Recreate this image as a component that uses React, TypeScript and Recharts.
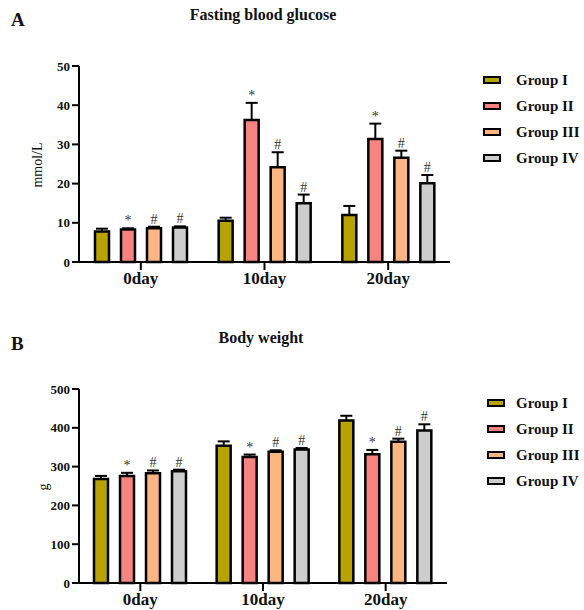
import React from 'react';
import { BarChart, Bar, XAxis, YAxis, LabelList } from 'recharts';

const days = ['0day', '10day', '20day'];
const groupNames = ['Group I', 'Group II', 'Group III', 'Group IV'];
const groupFills = ['#b8a200', '#f88482', '#fdb682', '#cdcdcd'];
const groupMarks = ['', '*', '#', '#'];

// mean per group, one value per day
const glucoseMean = [
    [7.8, 10.5, 12.0],
    [8.3, 36.2, 31.4],
    [8.6, 24.2, 26.6],
    [8.8, 15.0, 20.1],
];
const glucoseErr = [
    [0.7, 0.8, 2.3],
    [0.3, 4.4, 3.9],
    [0.4, 3.8, 1.8],
    [0.3, 2.2, 2.1],
];
const glucoseTicks = [0, 10, 20, 30, 40, 50];

const weightMean = [
    [268, 354, 419],
    [276, 325, 332],
    [283, 338, 364],
    [288, 344, 393],
];
const weightErr = [
    [8, 11, 12],
    [8, 6, 11],
    [7, 4, 8],
    [4, 4, 16],
];
const weightTicks = [0, 100, 200, 300, 400, 500];

const serif = '"Liberation Serif", "Times New Roman", serif';

function buildRows(mean: number[][], err: number[][]) {
    return days.map((day, d) => {
        const row: Record<string, string | number> = { day };
        groupNames.forEach((_, g) => {
            row[`m${g}`] = mean[g][d];
            row[`e${g}`] = err[g][d];
            row[`s${g}`] = groupMarks[g];
        });
        return row;
    });
}

// upward error whisker drawn on a stacked, invisible segment
const ErrShape = (props: any) => {
    const { x, y, width, height } = props;
    if (height == null || isNaN(height)) return null;
    const cx = x + width / 2;
    return (
        <g>
            <line x1={cx} y1={y} x2={cx} y2={y + height} stroke="#000" strokeWidth={2} />
            <line x1={cx - 6} y1={y} x2={cx + 6} y2={y} stroke="#000" strokeWidth={2} />
        </g>
    );
};

interface PanelProps {
    mean: number[][];
    err: number[][];
    ticks: number[];
    right: number;
    top: number;
    height: number;
    bottom: number;
    xHeight: number;
}

function Panel({ mean, err, ticks, right, top, height, bottom, xHeight }: PanelProps) {
    const rows = buildRows(mean, err);
    return (
        <BarChart
            width={584}
            height={height}
            data={rows}
            margin={{ top, right, left: 0, bottom }}
            barSize={14}
            barGap={12}
        >
            <XAxis
                dataKey="day"
                axisLine={{ stroke: '#000', strokeWidth: 2 }}
                tickLine={{ stroke: '#000', strokeWidth: 2 }}
                tickSize={8}
                tickMargin={2}
                height={xHeight}
                tick={{ fill: '#111', fontSize: 17, fontWeight: 'bold', fontFamily: serif }}
            />
            <YAxis
                width={79}
                domain={[ticks[0], ticks[ticks.length - 1]]}
                ticks={ticks}
                interval={0}
                axisLine={{ stroke: '#000', strokeWidth: 2 }}
                tickLine={{ stroke: '#000', strokeWidth: 2 }}
                tickSize={7}
                tickMargin={2}
                tick={{ fill: '#111', fontSize: 13, fontWeight: 'bold', fontFamily: serif }}
            />
            {groupNames.map((name, g) => [
                <Bar
                    key={`m${g}`}
                    name={name}
                    dataKey={`m${g}`}
                    stackId={`g${g}`}
                    fill={groupFills[g]}
                    stroke="#000"
                    strokeWidth={2.5}
                    isAnimationActive={false}
                />,
                <Bar
                    key={`e${g}`}
                    dataKey={`e${g}`}
                    stackId={`g${g}`}
                    fill="none"
                    legendType="none"
                    shape={ErrShape}
                    isAnimationActive={false}
                >
                    <LabelList
                        dataKey={`s${g}`}
                        position="top"
                        offset={3}
                        fill="#333"
                        fontSize={14}
                        fontFamily={serif}
                    />
                </Bar>,
            ])}
        </BarChart>
    );
}

function LegendBox({ left, top, gap }: { left: number; top: number; gap: number }) {
    return (
        <div style={{ position: 'absolute', left, top, fontFamily: serif, whiteSpace: 'nowrap' }}>
            {groupNames.map((name, g) => (
                <div key={name} style={{ display: 'flex', alignItems: 'center', height: 26 }}>
                    <span
                        style={{
                            display: 'inline-block',
                            flexShrink: 0,
                            width: 14,
                            height: 4,
                            background: groupFills[g],
                            border: '2.5px solid #000',
                            marginRight: gap,
                        }}
                    />
                    <span style={{ fontSize: 15, fontWeight: 'bold', color: '#111' }}>{name}</span>
                </div>
            ))}
        </div>
    );
}

const abs = (left: number, top: number): React.CSSProperties => ({
    position: 'absolute',
    left,
    top,
    fontFamily: serif,
    color: '#111',
    whiteSpace: 'nowrap',
});

export default function App() {
    return (
        <div style={{ position: 'absolute', left: 0, top: 0, width: 584, height: 610, background: '#fff', overflow: 'hidden' }}>
            <div style={{ position: 'absolute', left: 0, top: 0 }}>
                <Panel mean={glucoseMean} err={glucoseErr} ticks={glucoseTicks} right={134} top={66} height={300} bottom={8} xHeight={30} />
            </div>
            <div style={{ position: 'absolute', left: 0, top: 322 }}>
                <Panel mean={weightMean} err={weightErr} ticks={weightTicks} right={137} top={67} height={288} bottom={1} xHeight={26} />
            </div>

            <div style={{ ...abs(11, 9), fontSize: 19, fontWeight: 'bold' }}>A</div>
            <div style={{ ...abs(263, 6), fontSize: 16, fontWeight: 'bold', transform: 'translateX(-50%)' }}>Fasting blood glucose</div>
            <div style={{ ...abs(38, 165), fontSize: 14, transform: 'translate(-50%, -50%) rotate(-90deg)' }}>mmol/L</div>
            <LegendBox left={483} top={67} gap={15} />

            <div style={{ ...abs(11, 333), fontSize: 19, fontWeight: 'bold' }}>B</div>
            <div style={{ ...abs(261, 329), fontSize: 16, fontWeight: 'bold', transform: 'translateX(-50%)' }}>Body weight</div>
            <div style={{ ...abs(44, 487), fontSize: 14, transform: 'translate(-50%, -50%) rotate(-90deg)' }}>g</div>
            <LegendBox left={487} top={390} gap={11} />
        </div>
    );
}
